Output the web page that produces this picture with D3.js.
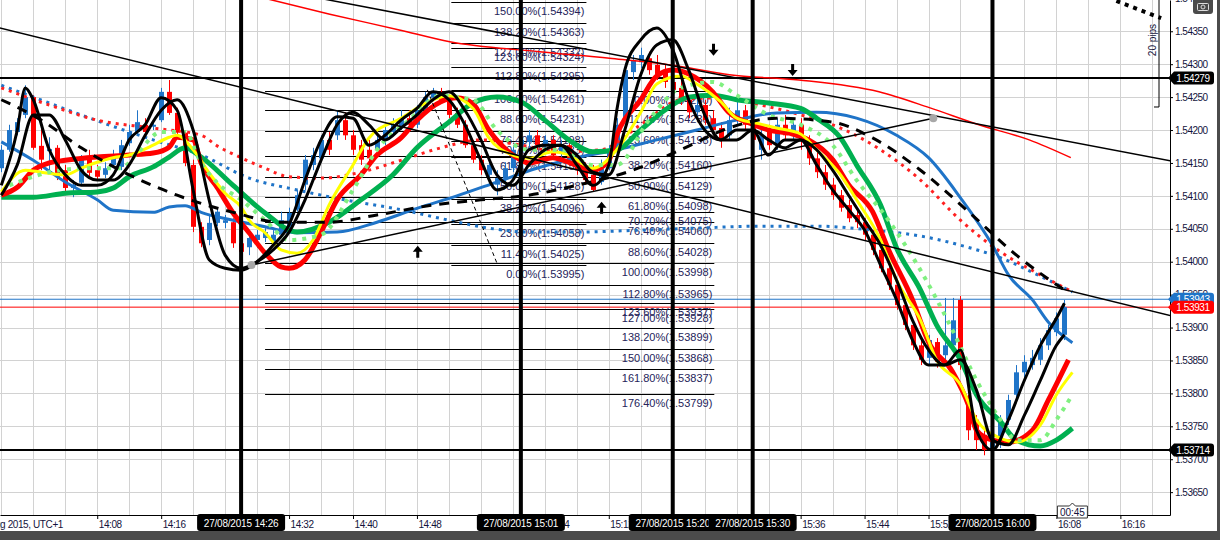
<!DOCTYPE html>
<html><head><meta charset="utf-8">
<script src="https://cdn.jsdelivr.net/npm/d3@7"></script>
<style>body{margin:0;background:#fff;overflow:hidden}svg{display:block}</style>
</head><body>
<svg id="c" width="1220" height="540"></svg>
<script>
const candleStart = "2015-08-27 13:56";
const opens = [1.54142,1.54170,1.54197,1.54223,1.54250,1.54176,1.54168,1.54173,1.54139,1.54112,
1.54120,1.54159,1.54139,1.54132,1.54147,1.54144,1.54180,1.54197,1.54208,1.54205,
1.54215,1.54258,1.54226,1.54196,1.54147,1.54053,1.54033,1.54059,1.54059,1.54060,
1.54028,1.54022,1.54033,1.54036,1.54030,1.54041,1.54053,1.54079,1.54117,1.54147,
1.54157,1.54185,1.54192,1.54215,1.54192,1.54177,1.54170,1.54170,1.54185,1.54197,
1.54203,1.54218,1.54208,1.54230,1.54249,1.54258,1.54246,1.54226,1.54208,1.54177,
1.54155,1.54132,1.54117,1.54127,1.54142,1.54170,1.54182,1.54192,1.54177,1.54185,
1.54167,1.54177,1.54155,1.54142,1.54132,1.54121,1.54142,1.54173,1.54215,1.54288,
1.54303,1.54309,1.54299,1.54288,1.54273,1.54264,1.54246,1.54227,1.54238,1.54218,
1.54203,1.54192,1.54215,1.54230,1.54208,1.54170,1.54200,1.54177,1.54208,1.54192,
1.54208,1.54185,1.54157,1.54136,1.54117,1.54101,1.54086,1.54071,1.54060,1.54041,
1.54018,1.53990,1.53965,1.53934,1.53904,1.53873,1.53854,1.53878,1.53858,1.53873,
1.53942,1.53790,1.53760,1.53737,1.53714,1.53726,1.53760,1.53798,1.53832,1.53843,
1.53851,1.53873,1.53893,1.53889];
const highs = [1.54177,1.54208,1.54218,1.54268,1.54253,1.54205,1.54189,1.54177,1.54147,1.54124,
1.54162,1.54170,1.54147,1.54151,1.54170,1.54185,1.54208,1.54230,1.54218,1.54215,
1.54264,1.54276,1.54234,1.54200,1.54155,1.54060,1.54071,1.54082,1.54071,1.54066,
1.54033,1.54044,1.54048,1.54051,1.54048,1.54076,1.54082,1.54109,1.54162,1.54173,
1.54192,1.54197,1.54230,1.54227,1.54200,1.54185,1.54185,1.54192,1.54208,1.54218,
1.54230,1.54230,1.54238,1.54258,1.54264,1.54264,1.54252,1.54234,1.54215,1.54185,
1.54162,1.54155,1.54139,1.54151,1.54177,1.54192,1.54200,1.54200,1.54192,1.54192,
1.54185,1.54185,1.54162,1.54151,1.54147,1.54155,1.54177,1.54218,1.54299,1.54314,
1.54325,1.54319,1.54314,1.54299,1.54284,1.54276,1.54253,1.54246,1.54246,1.54230,
1.54212,1.54234,1.54253,1.54238,1.54215,1.54200,1.54208,1.54218,1.54223,1.54218,
1.54218,1.54192,1.54170,1.54147,1.54127,1.54109,1.54094,1.54079,1.54066,1.54048,
1.54025,1.53999,1.53972,1.53942,1.53911,1.53881,1.53889,1.53884,1.53945,1.53945,
1.53948,1.53798,1.53767,1.53744,1.53741,1.53767,1.53798,1.53843,1.53858,1.53866,
1.53884,1.53904,1.53923,1.53942];
const lows = [1.54136,1.54167,1.54192,1.54218,1.54170,1.54139,1.54139,1.54124,1.54106,1.54098,
1.54117,1.54130,1.54124,1.54127,1.54142,1.54139,1.54176,1.54194,1.54192,1.54200,
1.54212,1.54223,1.54191,1.54145,1.54045,1.54022,1.54025,1.54054,1.54051,1.54021,
1.53999,1.54010,1.54021,1.54030,1.54024,1.54036,1.54048,1.54076,1.54109,1.54139,
1.54151,1.54162,1.54185,1.54185,1.54162,1.54147,1.54147,1.54162,1.54177,1.54192,
1.54200,1.54200,1.54203,1.54227,1.54246,1.54240,1.54218,1.54203,1.54173,1.54150,
1.54132,1.54124,1.54101,1.54117,1.54136,1.54162,1.54173,1.54170,1.54170,1.54157,
1.54157,1.54147,1.54132,1.54117,1.54106,1.54117,1.54139,1.54170,1.54212,1.54276,
1.54294,1.54284,1.54276,1.54264,1.54253,1.54238,1.54218,1.54218,1.54208,1.54192,
1.54173,1.54185,1.54208,1.54200,1.54177,1.54155,1.54170,1.54170,1.54185,1.54185,
1.54170,1.54147,1.54127,1.54109,1.54094,1.54076,1.54060,1.54051,1.54033,1.54010,
1.53984,1.53957,1.53927,1.53896,1.53866,1.53843,1.53843,1.53839,1.53851,1.53866,
1.53836,1.53729,1.53714,1.53706,1.53705,1.53717,1.53752,1.53790,1.53823,1.53836,
1.53843,1.53866,1.53887,1.53881];
const closes = [1.54170,1.54200,1.54212,1.54250,1.54173,1.54155,1.54171,1.54129,1.54112,1.54117,
1.54155,1.54135,1.54129,1.54142,1.54159,1.54177,1.54197,1.54212,1.54197,1.54208,
1.54258,1.54226,1.54196,1.54150,1.54053,1.54028,1.54059,1.54076,1.54063,1.54028,
1.54015,1.54036,1.54041,1.54045,1.54041,1.54063,1.54074,1.54101,1.54155,1.54162,
1.54185,1.54170,1.54215,1.54192,1.54170,1.54155,1.54157,1.54185,1.54200,1.54208,
1.54218,1.54208,1.54230,1.54250,1.54258,1.54246,1.54223,1.54208,1.54177,1.54155,
1.54139,1.54147,1.54127,1.54142,1.54170,1.54185,1.54192,1.54177,1.54185,1.54162,
1.54177,1.54155,1.54139,1.54124,1.54109,1.54142,1.54167,1.54208,1.54291,1.54306,
1.54314,1.54291,1.54284,1.54273,1.54261,1.54246,1.54227,1.54238,1.54215,1.54200,
1.54185,1.54215,1.54230,1.54208,1.54185,1.54192,1.54177,1.54208,1.54192,1.54208,
1.54185,1.54157,1.54136,1.54117,1.54101,1.54082,1.54066,1.54060,1.54041,1.54018,
1.53990,1.53965,1.53934,1.53904,1.53873,1.53851,1.53881,1.53848,1.53873,1.53911,
1.53843,1.53744,1.53729,1.53714,1.53729,1.53760,1.53790,1.53832,1.53848,1.53854,
1.53873,1.53896,1.53914,1.53931];

// moving averages: [minutes after first candle, price]
const maBlackFast = [[0,1.54116],[2,1.54200],[3,1.54264],[4,1.54246],[6,1.54170],[8,1.54132],[10,1.54116],[12,1.54116],[14,1.54132],[16,1.54185],[18,1.54208],[20,1.54249],[22,1.54230],[24,1.54109],[26,1.54003],[28,1.53990],[30,1.53987],[32,1.54000],[34,1.54025],[36,1.54056],[38,1.54124],[40,1.54185],[42,1.54220],[44,1.54218],[46,1.54177],[48,1.54192],[50,1.54215],[52,1.54233],[54,1.54258],[56,1.54246],[58,1.54208],[60,1.54154],[62,1.54109],[64,1.54124],[66,1.54170],[68,1.54177],[70,1.54177],[72,1.54147],[74,1.54116],[76,1.54147],[77,1.54230],[78,1.54291],[80,1.54337],[82,1.54355],[84,1.54322],[86,1.54246],[88,1.54200],[90,1.54185],[92,1.54200],[94,1.54200],[96,1.54162],[98,1.54185],[100,1.54185],[102,1.54147],[104,1.54109],[106,1.54079],[108,1.54048],[110,1.53995],[112,1.53942],[114,1.53881],[116,1.53843],[118,1.53843],[120,1.53866],[122,1.53744],[124,1.53714],[126,1.53760],[128,1.53820],[130,1.53873],[132,1.53914],[133,1.53937]];
const maBlackSlow = [[0,1.54101],[2,1.54147],[4,1.54223],[6,1.54223],[8,1.54185],[10,1.54139],[12,1.54124],[14,1.54124],[16,1.54147],[18,1.54192],[20,1.54230],[22,1.54246],[24,1.54200],[26,1.54094],[28,1.54010],[30,1.53990],[32,1.54000],[34,1.54018],[36,1.54045],[38,1.54094],[40,1.54154],[42,1.54208],[44,1.54227],[46,1.54208],[48,1.54185],[50,1.54203],[52,1.54223],[54,1.54246],[56,1.54258],[58,1.54230],[60,1.54185],[62,1.54132],[64,1.54116],[66,1.54147],[68,1.54170],[70,1.54177],[72,1.54162],[74,1.54136],[76,1.54132],[78,1.54200],[80,1.54284],[82,1.54329],[84,1.54337],[86,1.54291],[88,1.54223],[90,1.54185],[92,1.54185],[94,1.54200],[96,1.54185],[98,1.54173],[100,1.54185],[102,1.54170],[104,1.54139],[106,1.54101],[108,1.54063],[110,1.54025],[112,1.53972],[114,1.53911],[116,1.53866],[118,1.53843],[120,1.53851],[122,1.53805],[124,1.53729],[126,1.53722],[128,1.53767],[130,1.53820],[132,1.53873],[133,1.53889]];
const maRed = [[0,1.54101],[2,1.54113],[4,1.54139],[6,1.54150],[8,1.54154],[12,1.54159],[16,1.54162],[19,1.54165],[21,1.54174],[22,1.54189],[24,1.54185],[25,1.54150],[27,1.54113],[29,1.54074],[31,1.54044],[33,1.54013],[35,1.53992],[36,1.53990],[38,1.54003],[40,1.54045],[42,1.54094],[45,1.54132],[47,1.54162],[50,1.54188],[52,1.54215],[55,1.54243],[57,1.54249],[59,1.54240],[61,1.54200],[64,1.54162],[66,1.54150],[69,1.54158],[71,1.54151],[74,1.54139],[76,1.54154],[77,1.54192],[80,1.54246],[82,1.54282],[84,1.54291],[86,1.54285],[89,1.54258],[91,1.54227],[94,1.54209],[96,1.54200],[99,1.54194],[101,1.54185],[104,1.54155],[106,1.54117],[109,1.54076],[111,1.54018],[114,1.53942],[116,1.53878],[119,1.53833],[121,1.53782],[122,1.53744],[124,1.53729],[126,1.53726],[129,1.53744],[131,1.53790],[133.5,1.53851]];
const maYellow = [[0,1.54106],[3,1.54139],[5,1.54136],[8,1.54132],[10,1.54142],[12,1.54151],[14,1.54158],[16,1.54162],[19,1.54177],[21,1.54189],[22,1.54192],[24,1.54170],[26,1.54135],[28,1.54104],[30,1.54083],[31,1.54063],[33,1.54044],[35,1.54018],[37,1.54013],[39,1.54033],[41,1.54086],[44,1.54147],[46,1.54188],[50,1.54218],[54,1.54246],[56,1.54252],[59,1.54233],[61,1.54188],[64,1.54162],[66,1.54157],[69,1.54167],[71,1.54162],[74,1.54142],[77,1.54170],[80,1.54227],[82,1.54270],[85,1.54282],[87,1.54270],[90,1.54243],[92,1.54218],[95,1.54209],[97,1.54203],[100,1.54194],[102,1.54170],[105,1.54132],[107,1.54094],[110,1.54033],[112,1.53972],[115,1.53911],[117,1.53851],[120,1.53813],[122,1.53760],[125,1.53732],[127,1.53726],[130,1.53752],[132,1.53798],[134,1.53832]];
const maGreen = [[0,1.54098],[4,1.54098],[8,1.54104],[12,1.54106],[14,1.54112],[16,1.54129],[19,1.54144],[21,1.54159],[23,1.54173],[25,1.54159],[29,1.54116],[33,1.54074],[37,1.54045],[41,1.54060],[45,1.54094],[49,1.54132],[52,1.54173],[56,1.54212],[59,1.54241],[62,1.54250],[65,1.54243],[68,1.54215],[71,1.54185],[74,1.54167],[77,1.54170],[80,1.54200],[83,1.54230],[86,1.54250],[89,1.54253],[92,1.54246],[96,1.54241],[100,1.54233],[102,1.54218],[105,1.54188],[107,1.54147],[110,1.54086],[112,1.54021],[115,1.53957],[117,1.53904],[120,1.53851],[122,1.53798],[125,1.53757],[127,1.53729],[130,1.53720],[132,1.53729],[134,1.53747]];
const maBlue = [[0,1.54182],[4,1.54154],[8,1.54121],[12,1.54094],[14,1.54078],[19,1.54075],[21,1.54083],[23,1.54085],[25,1.54075],[29,1.54063],[33,1.54053],[37,1.54044],[42,1.54045],[47,1.54060],[52,1.54081],[57,1.54100],[62,1.54121],[67,1.54142],[72,1.54158],[77,1.54170],[82,1.54185],[87,1.54200],[92,1.54215],[97,1.54226],[102,1.54227],[107,1.54218],[112,1.54192],[116,1.54158],[120,1.54097],[124,1.54025],[126,1.53980],[129,1.53942],[131,1.53908],[134,1.53877]];
const maBlackDash = [[0,1.54246],[5,1.54215],[10,1.54173],[16,1.54132],[22,1.54101],[29,1.54075],[35,1.54060],[41,1.54060],[47,1.54071],[54,1.54086],[60,1.54094],[66,1.54101],[72,1.54116],[79,1.54139],[85,1.54170],[91,1.54203],[97,1.54218],[104,1.54212],[109,1.54188],[115,1.54139],[121,1.54076],[127,1.54010],[133,1.53957]];
const maRedDots = [[0,1.54264],[6,1.54238],[12,1.54215],[19,1.54203],[25,1.54192],[27,1.54176],[30,1.54158],[33,1.54142],[36,1.54129],[40,1.54127],[45,1.54136],[50,1.54154],[55,1.54173],[60,1.54185],[65,1.54177],[70,1.54167],[75,1.54170],[80,1.54208],[85,1.54246],[90,1.54249],[95,1.54238],[100,1.54223],[105,1.54203],[110,1.54170],[115,1.54124],[120,1.54063],[125,1.54015],[130,1.53980],[134,1.53954]];
const maBlueDots = [[0,1.54268],[6,1.54241],[12,1.54214],[19,1.54185],[25,1.54162],[31,1.54127],[37,1.54109],[43,1.54094],[50,1.54079],[56,1.54063],[61,1.54051],[66,1.54045],[72,1.54045],[80,1.54048],[87,1.54051],[95,1.54054],[102,1.54054],[109,1.54048],[115,1.54039],[120,1.54025],[125,1.54006],[130,1.53978],[134,1.53954]];
const maLimeDots = [[1,1.54116],[4,1.54129],[6,1.54136],[11,1.54142],[15,1.54142],[17,1.54165],[20,1.54197],[23,1.54197],[25,1.54150],[27,1.54120],[30,1.54094],[33,1.54063],[36,1.54033],[40,1.54041],[44,1.54109],[47,1.54170],[51,1.54215],[55,1.54252],[59,1.54246],[62,1.54200],[66,1.54170],[70,1.54170],[74,1.54147],[77,1.54147],[81,1.54215],[85,1.54264],[89,1.54273],[92,1.54253],[96,1.54223],[100,1.54208],[104,1.54177],[107,1.54124],[111,1.54063],[115,1.53987],[119,1.53896],[122,1.53820],[125,1.53760],[127,1.53729],[130,1.53729],[132,1.53760],[134,1.53798]];
const maRedSlow = [[33,1.54400],[41.1,1.54376],[49.8,1.54352],[56.1,1.54334],[67.3,1.54319],[76.1,1.54309],[84.8,1.54297],[91.1,1.54284],[99.8,1.54276],[109.8,1.54258],[116.1,1.54234],[122.3,1.54208],[128.6,1.54185],[133.8,1.54158]];

const trendLines = [[[-0.2,1.54355],[146.3,1.53918]],[[30,1.54423],[146.3,1.54153]],[[31.3,1.53995],[116.6,1.54218]]];
const trendPoints = [[31.3,1.53995],[116.6,1.54218]];
const fibAnchor = [[53.3,1.54261],[62.1,1.53995]];
const dottedTop = [[139.5,1.54396],[145.1,1.54370]];
const downArrows = [[89.1,1.54322],[99,1.54291]];
const upArrows = [[52.1,1.54015],[75.1,1.54082]];

const fibA_levels = ["150.00","138.20","127.00","123.60","112.80","100.00","88.60","76.40","70.70","61.80","50.00","38.20","23.60","11.40","0.00"];
const fibA_prices = [1.54394,1.54363,1.54332,1.54324,1.54295,1.54261,1.54231,1.54198,1.54183,1.54159,1.54128,1.54096,1.54058,1.54025,1.53995];
const fibA_span = [56.3, 73.2];
const fibB_levels = ["0.00","11.40","23.60","38.20","50.00","61.80","70.70","76.40","88.60","100.00","112.80","123.60","127.00","138.20","150.00","161.80","176.40"];
const fibB_prices = [1.54260,1.54230,1.54198,1.54160,1.54129,1.54098,1.54075,1.54060,1.54028,1.53998,1.53965,1.53937,1.53928,1.53899,1.53868,1.53837,1.53799];
const fibB_span = [33, 89.2];

const eventTimes = ["14:26","15:01","15:20","15:30","16:00"];
const markedLevels = [1.54279, 1.53714];
const askPrice = 1.53943, bidPrice = 1.53931;
const yTicks = [1.5365,1.5370,1.5375,1.5380,1.5385,1.5390,1.5395,1.5400,1.5405,1.5410,1.5415,1.5420,1.5425,1.5430,1.5435,1.5440];
const xTickMinutes = [12,20,28,36,44,52,60,68,76,84,92,100,108,116,124,132,140];
const dateLabel = "27 Aug 2015, UTC+1";
const countdown = "00:45";
const pipsLabel = "20 pips";

// ---------- drawing ----------
const W = 1170, H = 515;
const svg = d3.select("#c");
const base = d3.timeParse("%Y-%m-%d %H:%M")(candleStart);
const T = m => new Date(+base + m * 60000);
const x = d3.scaleTime().domain([T(-0.1625), T(146.21)]).range([0, W]);
const y = d3.scaleLinear().domain([1.536153, 1.543975]).range([H, 0]);
const X = d => x(T(d[0])), Y = d => y(d[1]);
const FONT = "Liberation Sans, Arial, sans-serif";

svg.append("rect").attr("width", 1220).attr("height", 540).attr("fill", "#fff");
const defs = svg.append("defs");
defs.append("clipPath").attr("id", "plot").append("rect").attr("width", W).attr("height", H);
const g = svg.append("g").attr("clip-path", "url(#plot)");

// grid
g.append("g").selectAll("line").data(yTicks).join("line")
  .attr("x1", 0).attr("x2", W).attr("y1", d => Math.round(y(d)) + 0.5).attr("y2", d => Math.round(y(d)) + 0.5)
  .attr("stroke", "#d2d2d2");
g.append("g").selectAll("line").data(d3.range(0, 147, 4)).join("line")
  .attr("x1", d => Math.round(x(T(d))) + 0.5).attr("x2", d => Math.round(x(T(d))) + 0.5).attr("y1", 0).attr("y2", H)
  .attr("stroke", "#d2d2d2");

// fibonacci levels
function fib(levels, prices, span) {
  const fg = g.append("g");
  const x1 = x(T(span[0])), x2 = x(T(span[1]));
  fg.selectAll("line").data(prices).join("line")
    .attr("x1", x1).attr("x2", x2).attr("y1", d => Math.round(y(d)) + 0.5).attr("y2", d => Math.round(y(d)) + 0.5)
    .attr("stroke", "#000").attr("stroke-width", 1.2);
  fg.selectAll("text").data(prices).join("text")
    .attr("x", x2 - 2).attr("y", d => y(d) + 13).attr("text-anchor", "end")
    .attr("font-family", FONT).attr("font-size", 11).attr("fill", "#25245a")
    .text((d, i) => `${levels[i]}%(${d.toFixed(5)})`);
}
fib(fibB_levels, fibB_prices, fibB_span);
fib(fibA_levels, fibA_prices, fibA_span);

// horizontal levels
g.selectAll(".lvl").data(markedLevels).join("line").attr("class", "lvl")
  .attr("x1", 0).attr("x2", W).attr("y1", d => y(d)).attr("y2", d => y(d)).attr("stroke", "#000").attr("stroke-width", 2);
g.append("line").attr("x1", 0).attr("x2", W).attr("y1", y(askPrice)).attr("y2", y(askPrice)).attr("stroke", "#1f74c8").attr("stroke-width", 1);
g.append("line").attr("x1", 0).attr("x2", W).attr("y1", y(bidPrice)).attr("y2", y(bidPrice)).attr("stroke", "#ff0000").attr("stroke-width", 1);

// candles
const candles = d3.range(opens.length).map(i => ({t: T(i), o: opens[i], h: highs[i], l: lows[i], c: closes[i]}));
const cg = g.append("g");
cg.selectAll("line").data(candles).join("line")
  .attr("x1", d => Math.round(x(d.t)) + 0.5).attr("x2", d => Math.round(x(d.t)) + 0.5)
  .attr("y1", d => y(d.h)).attr("y2", d => y(d.l))
  .attr("stroke", d => d.c >= d.o ? "#1f74c8" : "#ff0000");
cg.selectAll("rect").data(candles).join("rect")
  .attr("x", d => Math.round(x(d.t)) - 2).attr("width", 5)
  .attr("y", d => y(Math.max(d.o, d.c))).attr("height", d => Math.max(1, Math.abs(y(d.o) - y(d.c))))
  .attr("fill", d => d.c >= d.o ? "#1f74c8" : "#ff0000");

// moving averages
const line = d3.line().x(X).y(Y).curve(d3.curveMonotoneX);
const straight = d3.line().x(X).y(Y);
function ma(data, color, w, dash) {
  const p = g.append("path").attr("d", line(data)).attr("fill", "none").attr("stroke", color).attr("stroke-width", w)
    .attr("stroke-linejoin", "round");
  if (dash) p.attr("stroke-dasharray", dash);
  return p;
}
ma(maRedSlow, "#ff0000", 1.5);
ma(maBlueDots, "#1f74c8", 3, "3,5");
ma(maRedDots, "#ff2020", 3, "3,5");
ma(maBlue, "#1f74c8", 3);
ma(maGreen, "#00b050", 5);
ma(maRed, "#ff0000", 5);
ma(maYellow, "#ffff00", 3);
ma(maLimeDots, "#80f080", 4, "4,6");
ma(maBlackDash, "#000", 3, "10,8");
ma(maBlackSlow, "#000", 3);
ma(maBlackFast, "#000", 3);

// trend lines
g.selectAll(".tl").data(trendLines).join("path").attr("class", "tl").attr("d", straight)
  .attr("fill", "none").attr("stroke", "#000").attr("stroke-width", 1.5);
g.append("path").attr("d", straight(fibAnchor)).attr("fill", "none").attr("stroke", "#000").attr("stroke-dasharray", "4,3");
g.append("path").attr("d", straight(dottedTop)).attr("fill", "none").attr("stroke", "#000").attr("stroke-width", 4).attr("stroke-dasharray", "4,5");
g.selectAll(".tp").data(trendPoints).join("circle").attr("class", "tp").attr("cx", X).attr("cy", Y).attr("r", 4).attr("fill", "#a8a8a8");

// arrows
const arrowD = "M-1.5,-6 L1.5,-6 L1.5,0 L5,0 L0,6 L-5,0 L-1.5,0 Z";
g.selectAll(".da").data(downArrows).join("path").attr("class", "da").attr("d", arrowD)
  .attr("transform", d => `translate(${X(d)},${Y(d)})`).attr("fill", "#000");
g.selectAll(".ua").data(upArrows).join("path").attr("class", "ua").attr("d", arrowD)
  .attr("transform", d => `translate(${X(d)},${Y(d)}) rotate(180)`).attr("fill", "#000");

// event vertical lines
const tp = d3.timeParse("%Y-%m-%d %H:%M");
const evs = eventTimes.map(s => tp("2015-08-27 " + s));
g.selectAll(".ev").data(evs).join("line").attr("class", "ev")
  .attr("x1", d => x(d)).attr("x2", d => x(d)).attr("y1", 0).attr("y2", H).attr("stroke", "#000").attr("stroke-width", 4);

// axes
const ya = svg.append("g").attr("transform", `translate(${W},0)`)
  .call(d3.axisRight(y).tickValues(yTicks).tickSize(3).tickSizeOuter(0).tickFormat(d3.format(".5f")));
ya.select(".domain").attr("stroke", "#000");
ya.selectAll("text").attr("font-family", FONT).attr("font-size", 10).attr("letter-spacing", -0.5).attr("fill", "#14143c").attr("x", 5);

// x ticks hidden completely under the event boxes carry no visible label
const boxHalf = 44;
const hidden = t => evs.some(e => Math.abs(x(e) - x(t)) < boxHalf - 22 || (x(t) > x(e) - boxHalf && x(t) + 24 < x(e) + boxHalf));
const xa = svg.append("g").attr("transform", `translate(0,${H})`)
  .call(d3.axisBottom(x).tickValues(xTickMinutes.map(T)).tickSize(4).tickSizeOuter(0)
    .tickFormat(t => hidden(t) ? "" : d3.timeFormat("%H:%M")(t)));
xa.select(".domain").attr("stroke", "#000");
xa.selectAll("text").attr("font-family", FONT).attr("font-size", 10).attr("letter-spacing", -0.4).attr("fill", "#14143c")
  .attr("text-anchor", "start").attr("x", 1).attr("y", 6);
svg.append("text").attr("x", 63).attr("y", 528).attr("text-anchor", "end").attr("font-family", FONT).attr("font-size", 10)
  .attr("letter-spacing", -0.4).attr("fill", "#14143c").text(dateLabel);

// event time boxes
const fmtBox = d3.timeFormat("%d/%m/%Y %H:%M");
const eb = svg.append("g").selectAll("g").data(evs).join("g").attr("transform", d => `translate(${x(d)},0)`);
eb.append("rect").attr("x", -boxHalf).attr("y", 514).attr("width", boxHalf * 2).attr("height", 17).attr("rx", 3).attr("fill", "#000");
eb.append("text").attr("y", 526.5).attr("text-anchor", "middle").attr("font-family", FONT).attr("font-size", 10)
  .attr("letter-spacing", -0.2).attr("fill", "#fff").text(d => fmtBox(d));

// countdown
const lastX = x(T(opens.length - 1)) + 8;
const cd = svg.append("g").attr("transform", `translate(${lastX},0)`);
cd.append("path").attr("d", "M-15,506 L-3,506 L0,503 L3,506 L15,506 L15,518 L-15,518 Z").attr("fill", "#fff").attr("stroke", "#333");
cd.append("text").attr("y", 516).attr("text-anchor", "middle").attr("font-family", FONT).attr("font-size", 10).attr("fill", "#14143c").text(countdown);

// price tags
function tag(v, fill) {
  const yy = y(v);
  svg.append("path").attr("d", `M1168,${yy} L1174,${yy - 6.5} L1211,${yy - 6.5} Q1214,${yy - 6.5} 1214,${yy - 3.5} L1214,${yy + 3.5} Q1214,${yy + 6.5} 1211,${yy + 6.5} L1174,${yy + 6.5} Z`).attr("fill", fill);
  svg.append("text").attr("x", 1193).attr("y", yy + 3.5).attr("text-anchor", "middle").attr("font-family", FONT)
    .attr("font-size", 10).attr("letter-spacing", -0.4).attr("fill", "#fff").text(v.toFixed(5));
}
tag(markedLevels[0], "#000");
tag(markedLevels[1], "#000");
tag(askPrice, "#1f74c8");
tag(bidPrice, "#ff0000");

// 20 pips bracket
svg.append("path").attr("d", `M1159,0 L1159,${y(1.54235)} L1154,${y(1.54235)}`).attr("fill", "none").attr("stroke", "#000");
svg.append("text").attr("transform", "translate(1156,40) rotate(-90)").attr("text-anchor", "middle")
  .attr("font-family", FONT).attr("font-size", 10).attr("fill", "#14143c").text(pipsLabel);

// camera icon
svg.append("rect").attr("x", 1193).attr("y", -4).attr("width", 20).attr("height", 18).attr("rx", 3).attr("fill", "#4a4a4a");
svg.append("rect").attr("x", 1197.5).attr("y", 3.5).attr("width", 11).attr("height", 7).attr("rx", 1).attr("fill", "none").attr("stroke", "#ddd");
svg.append("circle").attr("cx", 1203).attr("cy", 7).attr("r", 2).attr("fill", "none").attr("stroke", "#ddd");

// window frame
svg.append("rect").attr("x", 1217).attr("y", 0).attr("width", 3).attr("height", 540).attr("fill", "#4b4b4b");
svg.append("rect").attr("x", 0).attr("y", 531).attr("width", 1220).attr("height", 9).attr("fill", "#4b4b4b");
</script>
</body></html>
